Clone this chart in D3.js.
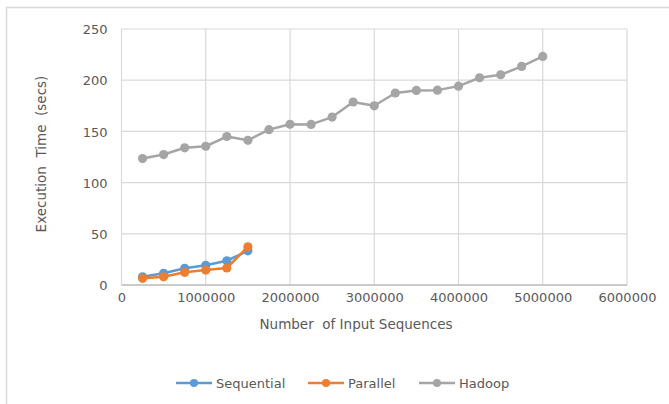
<!DOCTYPE html>
<html><head><meta charset="utf-8">
<script src="https://cdn.jsdelivr.net/npm/d3@7"></script>
<style>body{margin:0;background:#fff}svg{display:block}text{font-family:"DejaVu Sans",sans-serif;fill:#595959;white-space:pre}</style>
</head><body><svg id="c" width="669" height="404"></svg>
<script>
const xValues = [250000,500000,750000,1000000,1250000,1500000,1750000,2000000,2250000,2500000,2750000,3000000,3250000,3500000,3750000,4000000,4250000,4500000,4750000,5000000];
const sequential = [8,11.4,16.3,19.2,23.7,33.4];
const parallel = [6.5,8,12.4,14.6,16.6,37.3];
const hadoop = [123.5,127.4,134,135.5,145,141.3,151.7,157,156.8,164,178.7,175,187.5,190,190.3,194.2,202.4,205.3,213.5,223.2];
const xTicks = [0,1000000,2000000,3000000,4000000,5000000,6000000];
const yTicks = [0,50,100,150,200,250];
const seriesNames = ["Sequential","Parallel","Hadoop"];
const colors = ["#5B9BD5","#ED7D31","#A5A5A5"];

const svg = d3.select("#c");
// outer chart border (cropped)
svg.append("path").attr("d","M6.5,404 V7.5 H669").attr("fill","none").attr("stroke","#D9D9D9").attr("stroke-width",1.5);

const x = d3.scaleLinear().domain([0,6000000]).range([121.5,627]);
const y = d3.scaleLinear().domain([0,250]).range([285,29]);

// gridlines
const g = svg.append("g");
g.selectAll(".vg").data(xTicks).join("line").attr("x1",d=>x(d)).attr("x2",d=>x(d)).attr("y1",y(250)).attr("y2",y(0)).attr("stroke","#D9D9D9").attr("stroke-width",1.2);
g.selectAll(".hg").data(yTicks).join("line").attr("x1",x(0)).attr("x2",x(6000000)).attr("y1",d=>y(d)).attr("y2",d=>y(d)).attr("stroke","#D9D9D9").attr("stroke-width",1.2);
g.append("line").attr("x1",x(0)).attr("x2",x(6000000)).attr("y1",y(0)).attr("y2",y(0)).attr("stroke","#BFBFBF").attr("stroke-width",1.5);

// axes (labels via d3 axes)
const xAxis = svg.append("g").attr("transform",`translate(0,${y(0)})`)
  .call(d3.axisBottom(x).tickValues(xTicks).tickFormat(d3.format("d")).tickSize(0).tickPadding(8));
const yAxis = svg.append("g").attr("transform",`translate(${x(0)-14},0)`)
  .call(d3.axisLeft(y).tickValues(yTicks).tickSize(0).tickPadding(0));
[xAxis,yAxis].forEach(a=>{a.select(".domain").remove();a.selectAll("text").style("font-family","'DejaVu Sans',sans-serif").style("font-size","13px").attr("fill","#595959");});
yAxis.selectAll("text").attr("dy","0.36em");

// titles
svg.append("text").attr("x",356).attr("y",329).attr("text-anchor","middle").style("font-size","13.5px").text("Number  of Input Sequences");
svg.append("text").attr("transform","translate(46,154) rotate(-90)").attr("text-anchor","middle").style("font-size","13.5px").text("Execution  Time  (secs)");

// series
const series = [sequential,parallel,hadoop];
const line = d3.line().x((d,i)=>x(xValues[i])).y(d=>y(d));
series.forEach((s,k)=>{
  svg.append("path").datum(s).attr("d",line).attr("fill","none").attr("stroke",colors[k]).attr("stroke-width",2.5).attr("stroke-linejoin","round");
  svg.append("g").selectAll("circle").data(s).join("circle").attr("cx",(d,i)=>x(xValues[i])).attr("cy",d=>y(d)).attr("r",4.6).attr("fill",colors[k]);
});

// legend
const legX = [176,308,419];
const lg = svg.append("g");
seriesNames.forEach((n,k)=>{
  lg.append("line").attr("x1",legX[k]).attr("x2",legX[k]+36).attr("y1",383).attr("y2",383).attr("stroke",colors[k]).attr("stroke-width",2.5);
  lg.append("circle").attr("cx",legX[k]+18).attr("cy",383).attr("r",4).attr("fill",colors[k]);
  lg.append("text").attr("x",legX[k]+40).attr("y",383).attr("dy","0.36em").style("font-size","13px").text(n);
});
</script></body></html>
